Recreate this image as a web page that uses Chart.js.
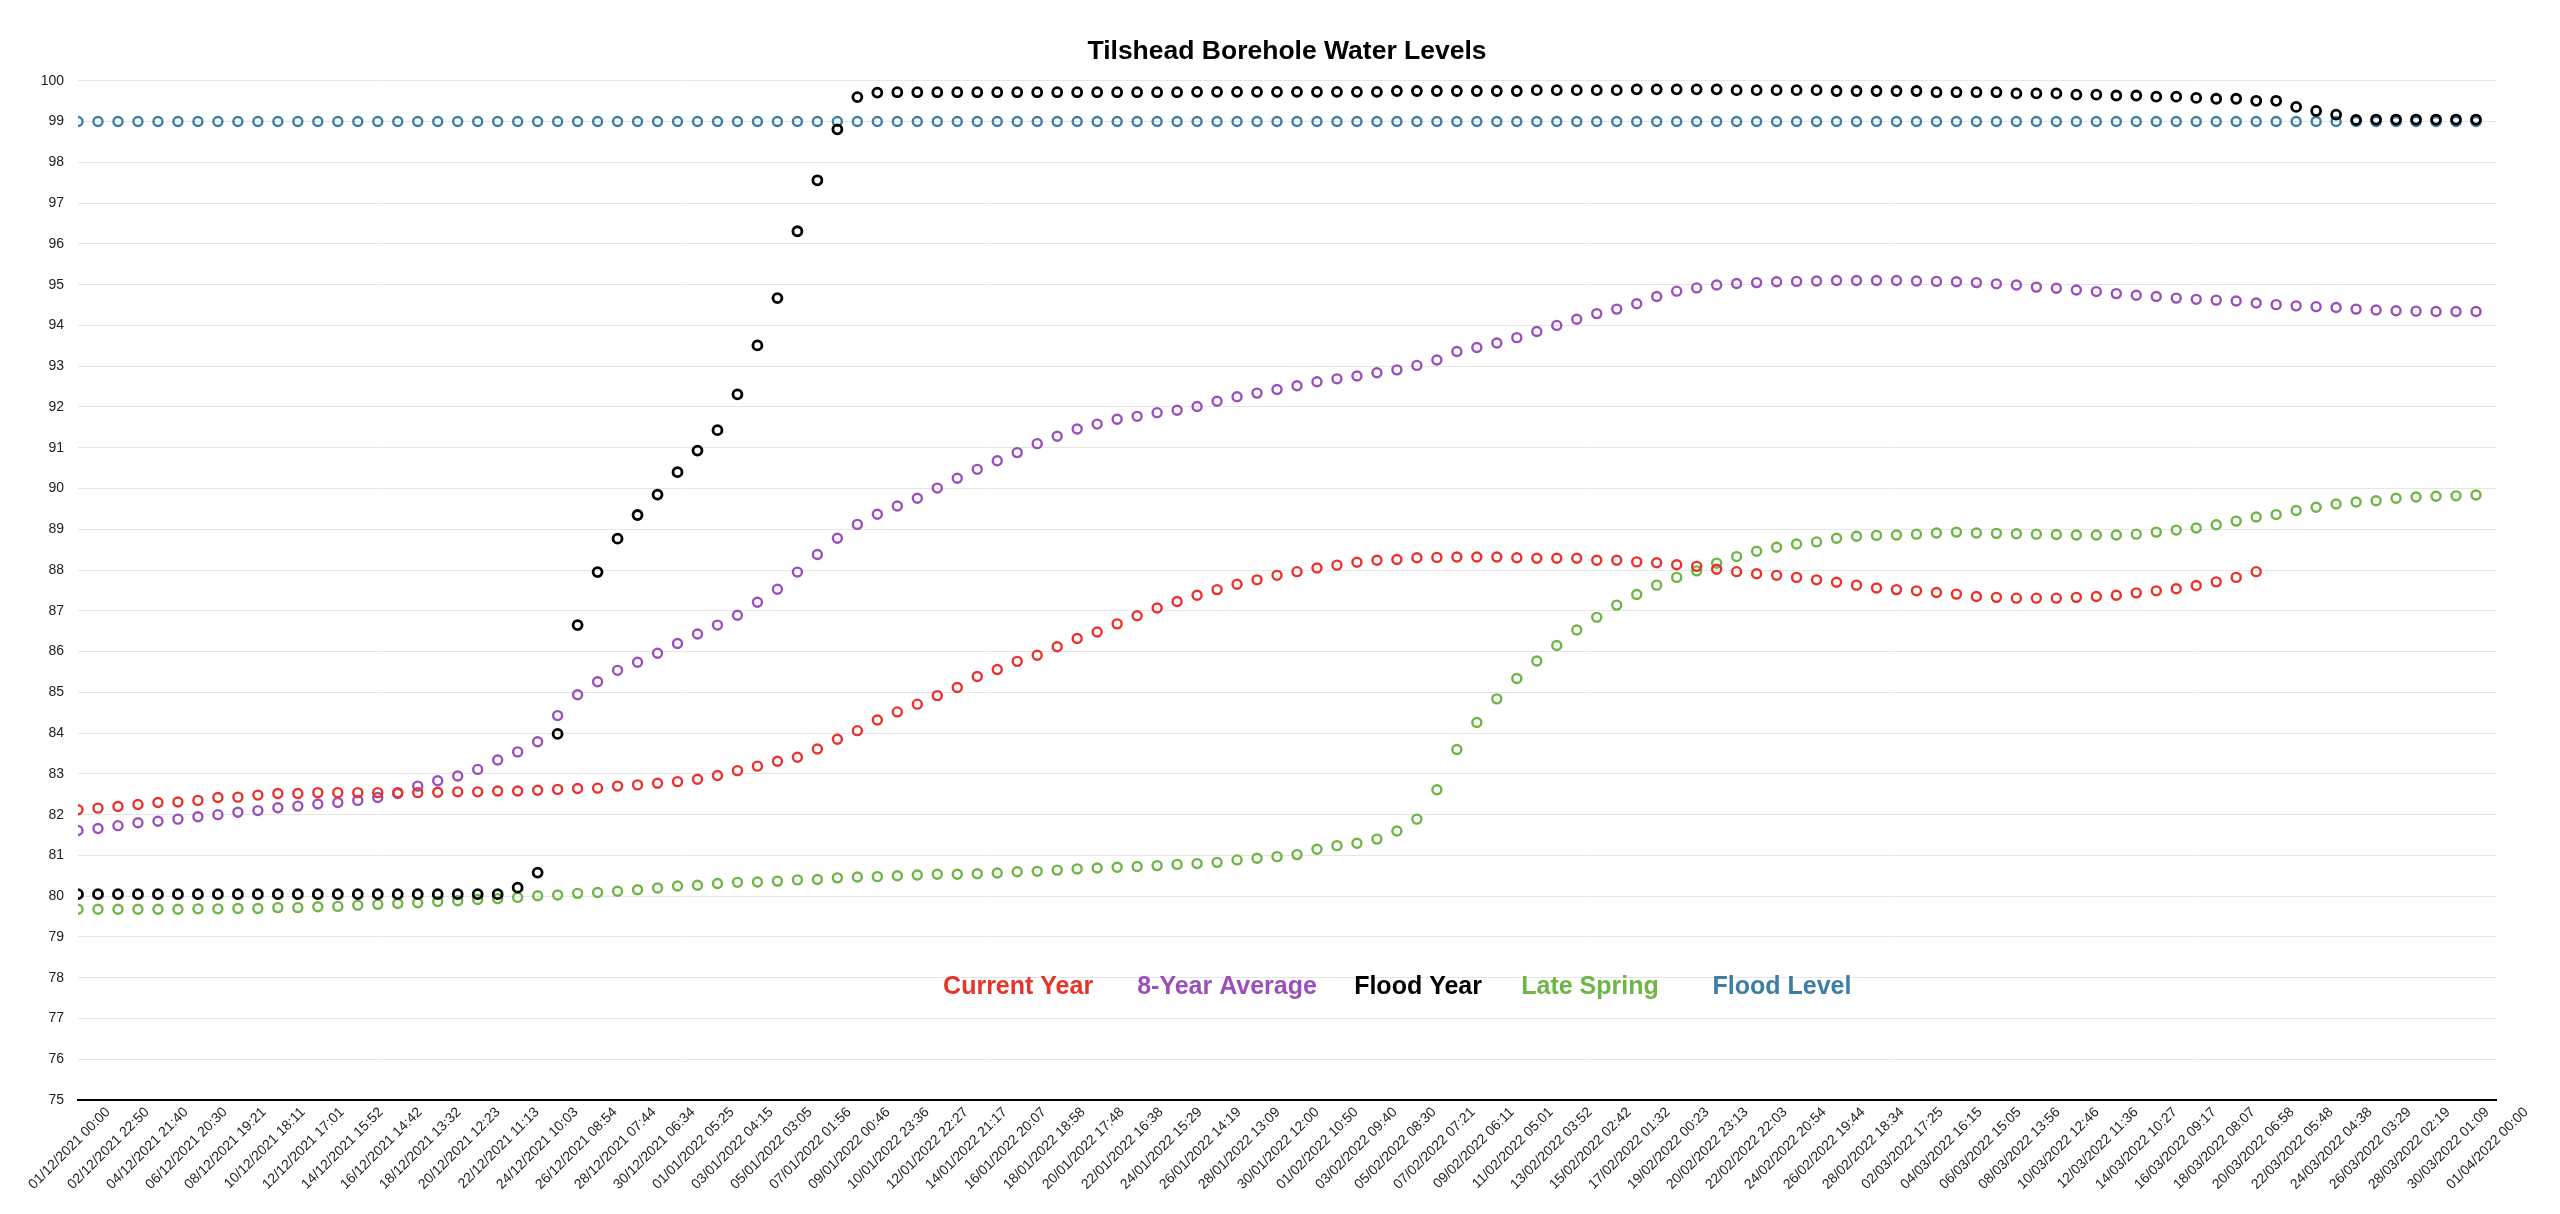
<!DOCTYPE html>
<html>
<head>
<meta charset="utf-8">
<title>Tilshead Borehole Water Levels</title>
<script src="https://cdn.jsdelivr.net/npm/chart.js@4/dist/chart.umd.min.js"></script>
<style>
  html, body { margin: 0; padding: 0; background: #fff; }
  #chart { display: block; }
</style>
</head>
<body>
<canvas id="chart" width="2560" height="1214"></canvas>
<script>
// Daily readings from 01/12/2021, axis runs to 01/04/2022
const START = Date.UTC(2021, 11, 1);
const END = Date.UTC(2022, 3, 1);
const DAY = 86400000;

const tickLabels = [
  '01/12/2021 00:00', '02/12/2021 22:50', '04/12/2021 21:40', '06/12/2021 20:30', '08/12/2021 19:21',
  '10/12/2021 18:11', '12/12/2021 17:01', '14/12/2021 15:52', '16/12/2021 14:42', '18/12/2021 13:32',
  '20/12/2021 12:23', '22/12/2021 11:13', '24/12/2021 10:03', '26/12/2021 08:54', '28/12/2021 07:44',
  '30/12/2021 06:34', '01/01/2022 05:25', '03/01/2022 04:15', '05/01/2022 03:05', '07/01/2022 01:56',
  '09/01/2022 00:46', '10/01/2022 23:36', '12/01/2022 22:27', '14/01/2022 21:17', '16/01/2022 20:07',
  '18/01/2022 18:58', '20/01/2022 17:48', '22/01/2022 16:38', '24/01/2022 15:29', '26/01/2022 14:19',
  '28/01/2022 13:09', '30/01/2022 12:00', '01/02/2022 10:50', '03/02/2022 09:40', '05/02/2022 08:30',
  '07/02/2022 07:21', '09/02/2022 06:11', '11/02/2022 05:01', '13/02/2022 03:52', '15/02/2022 02:42',
  '17/02/2022 01:32', '19/02/2022 00:23', '20/02/2022 23:13', '22/02/2022 22:03', '24/02/2022 20:54',
  '26/02/2022 19:44', '28/02/2022 18:34', '02/03/2022 17:25', '04/03/2022 16:15', '06/03/2022 15:05',
  '08/03/2022 13:56', '10/03/2022 12:46', '12/03/2022 11:36', '14/03/2022 10:27', '16/03/2022 09:17',
  '18/03/2022 08:07', '20/03/2022 06:58', '22/03/2022 05:48', '24/03/2022 04:38', '26/03/2022 03:29',
  '28/03/2022 02:19', '30/03/2022 01:09', '01/04/2022 00:00'
];

const currentYear = [
  82.12, 82.16, 82.20, 82.25, 82.30, 82.31, 82.35, 82.42, 82.43, 82.48,
  82.52, 82.52, 82.54, 82.54, 82.54, 82.54, 82.54, 82.54, 82.55, 82.56,
  82.56, 82.58, 82.58, 82.60, 82.62, 82.64, 82.65, 82.70, 82.73, 82.77,
  82.81, 82.87, 82.96, 83.08, 83.19, 83.31, 83.41, 83.61, 83.85, 84.06,
  84.32, 84.52, 84.71, 84.92, 85.12, 85.39, 85.56, 85.76, 85.91, 86.12,
  86.32, 86.48, 86.68, 86.88, 87.07, 87.23, 87.38, 87.52, 87.65, 87.76,
  87.87, 87.96, 88.05, 88.12, 88.19, 88.24, 88.26, 88.30, 88.31, 88.32,
  88.32, 88.32, 88.30, 88.29, 88.29, 88.29, 88.24, 88.24, 88.20, 88.18,
  88.13, 88.09, 88.02, 87.96, 87.91, 87.87, 87.82, 87.76, 87.70, 87.63,
  87.56, 87.52, 87.49, 87.45, 87.41, 87.35, 87.33, 87.31, 87.31, 87.31,
  87.33, 87.35, 87.38, 87.44, 87.49, 87.54, 87.62, 87.71, 87.82, 87.96
];

const eightYearAverage = [
  81.61, 81.66, 81.73, 81.80, 81.84, 81.89, 81.95, 82.00, 82.06, 82.10,
  82.17, 82.21, 82.26, 82.30, 82.35, 82.42, 82.52, 82.70, 82.83, 82.95,
  83.11, 83.34, 83.54, 83.79, 84.43, 84.94, 85.26, 85.54, 85.74, 85.96,
  86.20, 86.43, 86.65, 86.89, 87.21, 87.53, 87.95, 88.38, 88.78, 89.12,
  89.37, 89.57, 89.76, 90.01, 90.25, 90.47, 90.68, 90.88, 91.10, 91.28,
  91.46, 91.58, 91.70, 91.77, 91.86, 91.92, 92.01, 92.14, 92.25, 92.34,
  92.43, 92.52, 92.62, 92.69, 92.76, 92.84, 92.91, 93.02, 93.15, 93.36,
  93.46, 93.57, 93.70, 93.85, 94.00, 94.15, 94.29, 94.40, 94.53, 94.71,
  94.84, 94.92, 94.99, 95.03, 95.05, 95.07, 95.08, 95.09, 95.10, 95.10,
  95.10, 95.10, 95.09, 95.08, 95.07, 95.05, 95.02, 94.99, 94.94, 94.91,
  94.87, 94.83, 94.78, 94.74, 94.71, 94.67, 94.64, 94.62, 94.60, 94.55,
  94.51, 94.48, 94.46, 94.44, 94.40, 94.38, 94.36, 94.35, 94.34, 94.34,
  94.34
];

const floodYear = [
  80.05, 80.05, 80.05, 80.05, 80.05, 80.05, 80.05, 80.05, 80.05, 80.05,
  80.05, 80.05, 80.05, 80.05, 80.05, 80.05, 80.05, 80.05, 80.05, 80.05,
  80.05, 80.05, 80.21, 80.58, 83.98, 86.65, 87.95, 88.77, 89.35, 89.85,
  90.40, 90.93, 91.43, 92.31, 93.51, 94.67, 96.31, 97.56, 98.81, 99.60,
  99.71, 99.72, 99.72, 99.72, 99.72, 99.72, 99.72, 99.72, 99.72, 99.72,
  99.72, 99.72, 99.72, 99.72, 99.72, 99.72, 99.73, 99.73, 99.73, 99.73,
  99.73, 99.73, 99.73, 99.73, 99.73, 99.73, 99.75, 99.75, 99.75, 99.75,
  99.75, 99.75, 99.75, 99.77, 99.77, 99.77, 99.77, 99.77, 99.79, 99.79,
  99.79, 99.79, 99.79, 99.77, 99.77, 99.77, 99.77, 99.77, 99.75, 99.75,
  99.75, 99.75, 99.75, 99.72, 99.72, 99.72, 99.72, 99.69, 99.69, 99.69,
  99.66, 99.66, 99.64, 99.64, 99.61, 99.61, 99.58, 99.56, 99.56, 99.51,
  99.51, 99.36, 99.26, 99.17, 99.04, 99.05, 99.05, 99.05, 99.05, 99.05,
  99.05
];

const lateSpring = [
  79.68, 79.68, 79.68, 79.68, 79.68, 79.68, 79.69, 79.69, 79.70, 79.70,
  79.72, 79.72, 79.74, 79.75, 79.78, 79.80, 79.82, 79.84, 79.87, 79.89,
  79.92, 79.94, 79.97, 80.01, 80.03, 80.07, 80.09, 80.12, 80.16, 80.20,
  80.25, 80.27, 80.31, 80.34, 80.35, 80.37, 80.40, 80.41, 80.45, 80.47,
  80.48, 80.50, 80.52, 80.54, 80.54, 80.55, 80.57, 80.60, 80.61, 80.64,
  80.67, 80.69, 80.71, 80.73, 80.75, 80.78, 80.80, 80.83, 80.89, 80.93,
  80.97, 81.02, 81.15, 81.24, 81.30, 81.40, 81.60, 81.89, 82.61, 83.60,
  84.26, 84.84, 85.34, 85.77, 86.15, 86.53, 86.84, 87.14, 87.40, 87.63,
  87.82, 87.98, 88.17, 88.33, 88.46, 88.56, 88.64, 88.69, 88.78, 88.83,
  88.85, 88.86, 88.88, 88.91, 88.93, 88.91, 88.90, 88.89, 88.88, 88.87,
  88.86, 88.86, 88.86, 88.88, 88.93, 88.98, 89.03, 89.11, 89.20, 89.30,
  89.36, 89.46, 89.54, 89.62, 89.67, 89.70, 89.76, 89.79, 89.81, 89.82,
  89.84
];

const floodLevel = [
  99, 99, 99, 99, 99, 99, 99, 99, 99, 99, 99, 99, 99, 99, 99, 99, 99, 99, 99, 99,
  99, 99, 99, 99, 99, 99, 99, 99, 99, 99, 99, 99, 99, 99, 99, 99, 99, 99, 99, 99,
  99, 99, 99, 99, 99, 99, 99, 99, 99, 99, 99, 99, 99, 99, 99, 99, 99, 99, 99, 99,
  99, 99, 99, 99, 99, 99, 99, 99, 99, 99, 99, 99, 99, 99, 99, 99, 99, 99, 99, 99,
  99, 99, 99, 99, 99, 99, 99, 99, 99, 99, 99, 99, 99, 99, 99, 99, 99, 99, 99, 99,
  99, 99, 99, 99, 99, 99, 99, 99, 99, 99, 99, 99, 99, 99, 99, 99, 99, 99, 99, 99,
  99
];

// one reading per day, starting at START
function daily(values) {
  return values.map((v, i) => ({ x: START + i * DAY, y: v }));
}

function series(label, values, color, width) {
  return {
    label,
    data: daily(values),
    showLine: false,
    borderColor: color,
    backgroundColor: 'rgba(0,0,0,0)',
    pointRadius: 4.5,
    pointBorderWidth: width,
    pointHoverRadius: 4.5
  };
}

// legend font: narrow bold if the system has it
function legendFont() {
  const c = document.createElement('canvas').getContext('2d');
  c.font = 'bold 30px "Liberation Sans Narrow"';
  const narrow = c.measureText('Current Year').width;
  c.font = 'bold 30px "Liberation Sans"';
  const wide = c.measureText('Current Year').width;
  return narrow < wide * 0.9 ? 'bold 30px "Liberation Sans Narrow"' : 'bold 25px "Liberation Sans"';
}

const inlineLegend = {
  id: 'inlineLegend',
  afterDatasetsDraw(chart, args, opts) {
    const { ctx, chartArea } = chart;
    const y = chart.scales.y.getPixelForValue(opts.value);
    ctx.save();
    ctx.font = opts.font;
    ctx.textAlign = 'center';
    ctx.textBaseline = 'middle';
    chart.data.datasets.forEach((ds, i) => {
      ctx.fillStyle = ds.borderColor;
      ctx.fillText(ds.label, chartArea.left + chartArea.width * opts.centres[i], y);
    });
    ctx.restore();
  }
};

const tickValues = tickLabels.map((_, k) => START + k * (END - START) / (tickLabels.length - 1));

new Chart(document.getElementById('chart'), {
  type: 'scatter',
  data: {
    datasets: [
      series('Current Year', currentYear, '#e8332a', 2.4),
      series('8-Year Average', eightYearAverage, '#9b4fba', 2.4),
      series('Flood Year', floodYear, '#000000', 2.8),
      series('Late Spring', lateSpring, '#6db544', 2.4),
      series('Flood Level', floodLevel, '#3d7ea6', 2.4)
    ]
  },
  options: {
    responsive: false,
    animation: false,
    devicePixelRatio: 1,
    layout: { padding: { left: 0, right: 64, top: 0, bottom: 17 } },
    scales: {
      x: {
        type: 'linear',
        min: START,
        max: END,
        afterBuildTicks: (scale) => {
          scale.ticks = tickValues.map(v => ({ value: v }));
        },
        afterFit: (scale) => {
          scale.paddingLeft = 0;
          scale.paddingRight = 0;
        },
        ticks: {
          autoSkip: false,
          minRotation: 45,
          maxRotation: 45,
          labelOffset: 30,
          padding: 4,
          color: '#222',
          font: { family: '"Liberation Sans", Arial, sans-serif', size: 14 },
          callback: (value, index) => tickLabels[index]
        },
        grid: { display: false, drawTicks: false },
        border: { display: true, color: '#000', width: 2 }
      },
      y: {
        min: 75,
        max: 100,
        afterFit: (scale) => {
          scale.width = 78;
        },
        ticks: {
          stepSize: 1,
          padding: 14,
          color: '#222',
          font: { family: '"Liberation Sans", Arial, sans-serif', size: 14 }
        },
        grid: { color: '#e6e6e6', lineWidth: 1, drawTicks: false },
        border: { display: false }
      }
    },
    plugins: {
      legend: { display: false },
      tooltip: { enabled: false },
      title: {
        display: true,
        fullSize: false,
        text: 'Tilshead Borehole Water Levels',
        color: '#000',
        font: { family: '"Liberation Sans", Arial, sans-serif', size: 26.5, weight: 'bold' },
        padding: { top: 36, bottom: 13 }
      },
      inlineLegend: {
        value: 77.78,
        font: legendFont(),
        centres: [0.3888, 0.4752, 0.5542, 0.6253, 0.7047]
      }
    }
  },
  plugins: [inlineLegend]
});
</script>
</body>
</html>
